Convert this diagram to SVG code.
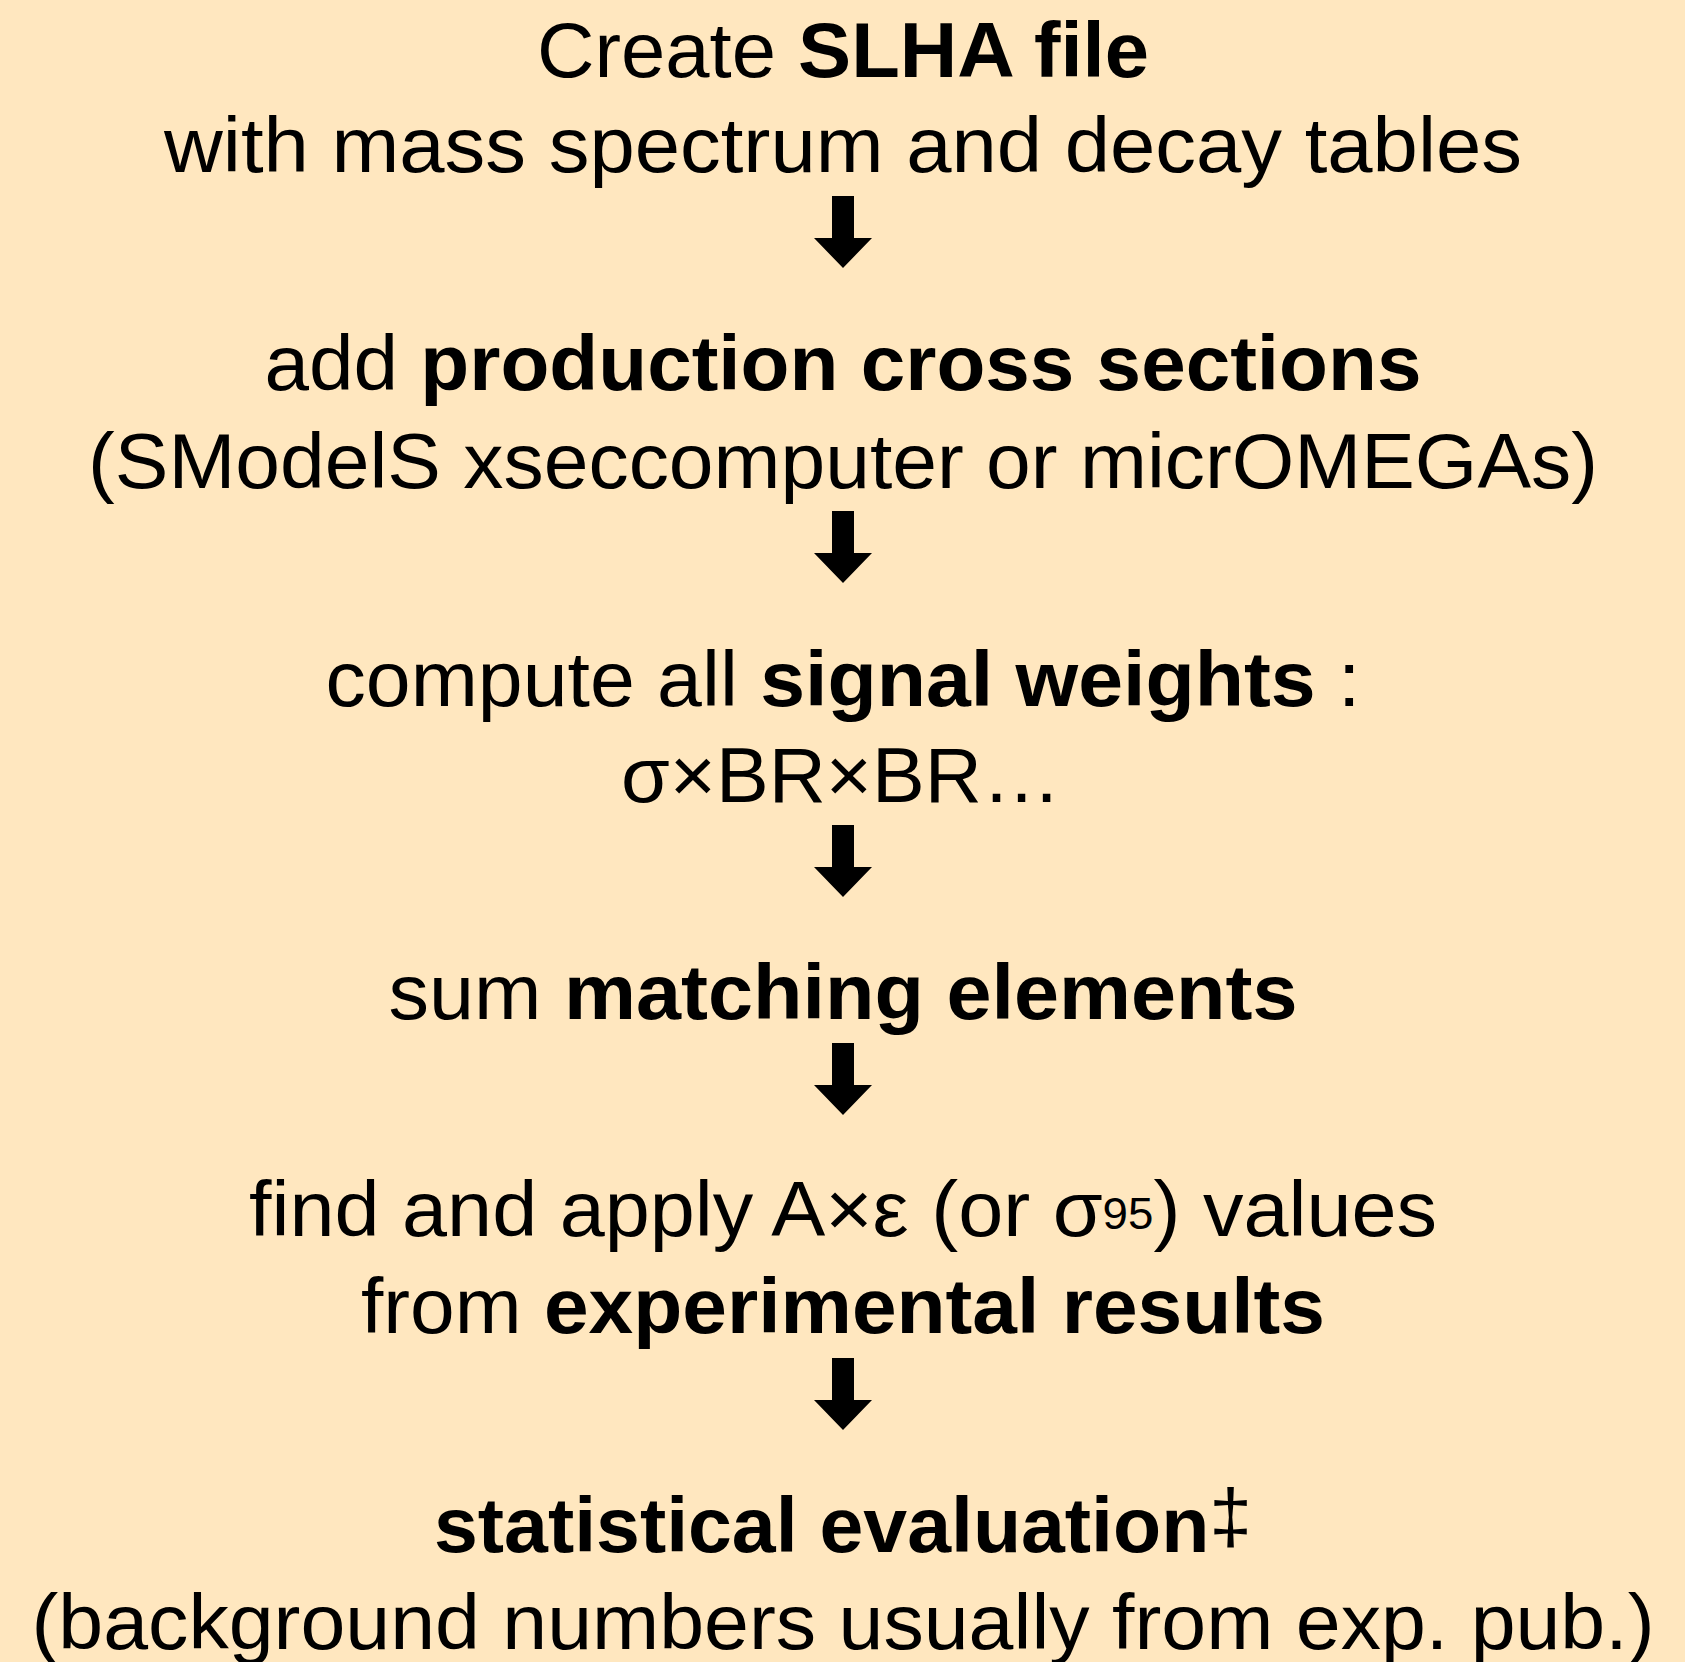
<svg xmlns="http://www.w3.org/2000/svg" width="1685" height="1662" viewBox="0 0 1685 1662">
<style>
  text { font-family: "Liberation Sans", Arial, Helvetica, sans-serif; font-size: 78px; fill: #000; text-anchor: middle; }
  .b { font-weight: bold; }
  .n { font-weight: normal; }
</style>
<defs>
  <path id="arrow" d="M-11,-72 H11 V-30 H29 L0,0 L-29,-30 H-11 Z" fill="#000"/>
</defs>
<rect x="0" y="0" width="1685" height="1662" fill="#FFE7BF"/>

<g id="node-slha">
  <text x="843" y="77" textLength="612" lengthAdjust="spacingAndGlyphs">Create <tspan class="b">SLHA file</tspan></text>
  <text x="843" y="172" textLength="1358" lengthAdjust="spacingAndGlyphs">with mass spectrum and decay tables</text>
</g>

<g id="node-xsec">
  <text x="843" y="390" textLength="1157" lengthAdjust="spacingAndGlyphs">add <tspan class="b">production cross sections</tspan></text>
  <text x="843" y="488" textLength="1510" lengthAdjust="spacingAndGlyphs">(SModelS xseccomputer or micrOMEGAs)</text>
</g>

<g id="node-weights">
  <text x="843" y="706" textLength="1035" lengthAdjust="spacingAndGlyphs">compute all <tspan class="b">signal weights</tspan> :</text>
  <text x="841" y="802" textLength="440" lengthAdjust="spacingAndGlyphs">σ×BR×BR…</text>
</g>

<g id="node-matching">
  <text x="843" y="1019" textLength="909" lengthAdjust="spacingAndGlyphs">sum <tspan class="b">matching elements</tspan></text>
</g>

<g id="node-results">
  <text x="843" y="1236" textLength="1188" lengthAdjust="spacingAndGlyphs">find and apply A×ε (or σ<tspan font-size="44" dy="-7">95</tspan><tspan dy="7">) values</tspan></text>
  <text x="843" y="1333" textLength="964" lengthAdjust="spacingAndGlyphs">from <tspan class="b">experimental results</tspan></text>
</g>

<g id="node-statistics">
  <text x="843" y="1552" class="b" textLength="818" lengthAdjust="spacingAndGlyphs">statistical evaluation<tspan class="n" font-size="76" dy="-10">‡</tspan></text>
  <text x="843" y="1649" textLength="1623" lengthAdjust="spacingAndGlyphs">(background numbers usually from exp. pub.)</text>
</g>

<g id="connectors">
  <use href="#arrow" x="843" y="268"/>
  <use href="#arrow" x="843" y="583"/>
  <use href="#arrow" x="843" y="897"/>
  <use href="#arrow" x="843" y="1115"/>
  <use href="#arrow" x="843" y="1430"/>
</g>
</svg>
